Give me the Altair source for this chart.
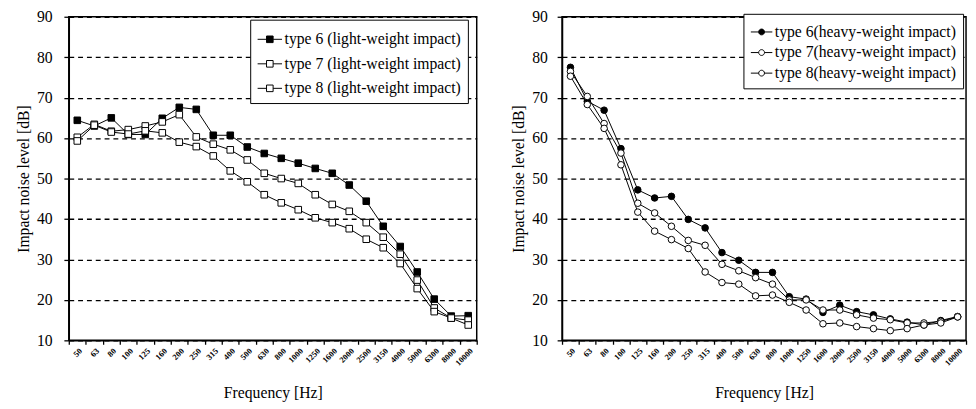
import altair as alt
import pandas as pd

freqs = ['50', '63', '80', '100', '125', '160', '200', '250', '315', '400', '500', '630',
         '800', '1000', '1250', '1600', '2000', '2500', '3150', '4000', '5000', '6300', '8000', '10000']

light_names = ['type 6 (light-weight impact)', 'type 7 (light-weight impact)', 'type 8 (light-weight impact)']
light6 = [64.4, 63.0, 65.0, 60.9, 60.9, 64.9, 67.6, 67.1, 60.7, 60.7, 57.8, 56.2,
          55.0, 53.8, 52.5, 51.3, 48.4, 44.4, 38.2, 33.2, 26.9, 20.2, 16.0, 16.1]
light7 = [60.2, 63.4, 61.7, 62.1, 63.0, 64.0, 65.8, 60.3, 58.5, 57.1, 54.6, 51.3,
          50.0, 48.8, 46.0, 43.6, 41.9, 39.1, 35.5, 31.3, 24.9, 18.0, 15.5, 15.0]
light8 = [59.3, 63.2, 61.5, 61.0, 61.8, 61.3, 59.0, 57.9, 55.6, 51.9, 49.2, 46.0,
          44.0, 42.3, 40.3, 39.1, 37.6, 35.0, 32.9, 29.0, 22.8, 17.1, 15.5, 13.8]

heavy_names = ['type 6(heavy-weight impact)', 'type 7(heavy-weight impact)', 'type 8(heavy-weight impact)']
heavy6 = [77.5, 69.1, 66.9, 57.4, 47.2, 45.2, 45.6, 39.9, 37.8, 31.7, 29.8, 26.8,
          26.8, 20.8, 20.2, 16.9, 18.7, 17.1, 16.3, 15.3, 14.5, 13.8, 14.9, 15.9]
heavy7 = [76.5, 70.3, 63.6, 56.3, 43.9, 41.5, 38.2, 34.7, 33.5, 28.8, 27.2, 25.5,
          23.9, 20.0, 20.0, 17.5, 17.5, 16.3, 15.5, 15.1, 14.3, 14.3, 14.7, 15.8]
heavy8 = [75.3, 68.3, 62.4, 53.4, 41.7, 37.0, 34.9, 32.7, 26.9, 24.3, 23.9, 21.0,
          21.2, 19.4, 17.5, 14.1, 14.3, 13.4, 12.9, 12.4, 12.9, 13.8, 14.3, 15.8]

FONT = 'Liberation Serif'


def long_df(names, series):
    rows = []
    for n, vals in zip(names, series):
        for f, v in zip(freqs, vals):
            rows.append({'freq': f, 'level': v, 'series': n})
    return pd.DataFrame(rows)


SQ_PATH = "M-1,0H-0.27M0.27,0H1M-0.27,-0.27H0.27V0.27H-0.27Z"
CI_PATH = "M-1,0H-0.27M0.27,0H1M-0.27,0A0.27,0.27 0 1,0 0.27,0A0.27,0.27 0 1,0 -0.27,0Z"


def panel(df, names, marker, sym_path, lx, ly, width, sym_size, row_pad, lab_pad):
    x = alt.X('freq:N', sort=freqs,
              scale=alt.Scale(type='band', paddingInner=0, paddingOuter=0),
              axis=alt.Axis(title='Frequency [Hz]', tickBand='extent', labelAngle=315,
                            labelFontSize=8.5, labelFontWeight='bold', tickSize=4,
                            labelPadding=2, titlePadding=18, grid=False))
    y = alt.Y('level:Q', scale=alt.Scale(domain=[10, 90], nice=False, zero=False),
              axis=alt.Axis(title='Impact noise level [dB]', values=list(range(10, 91, 10)),
                            grid=True, gridDash=[5, 4], gridColor='black', gridWidth=1.3,
                            gridOpacity=1, tickSize=5, labelPadding=lab_pad, titlePadding=5))
    base = alt.Chart(df)
    line = base.mark_line(color='black', strokeWidth=1).encode(x=x, y=y, detail='series:N')
    pts = base.mark_point(shape=marker, filled=True, stroke='black', strokeWidth=1,
                          size=45, opacity=1).encode(
        x=x, y=y,
        fill=alt.Fill('series:N',
                      scale=alt.Scale(domain=names, range=['black', 'white', 'white']),
                      legend=alt.Legend(title=None, orient='none', legendX=lx, legendY=ly,
                                        symbolType=sym_path, symbolSize=sym_size,
                                        symbolStrokeColor='black', symbolStrokeWidth=1,
                                        labelFont=FONT, labelFontSize=16, labelColor='black',
                                        labelLimit=400, padding=7, strokeColor='black',
                                        fillColor='white', rowPadding=row_pad, labelOffset=2)))
    return alt.layer(line, pts).properties(width=width, height=330)


left = panel(long_df(light_names, [light6, light7, light8]), light_names, 'square',
             SQ_PATH, 185, 3, 416, 620, 4, 12)
right = panel(long_df(heavy_names, [heavy6, heavy7, heavy8]), heavy_names, 'circle',
              CI_PATH, 185, -3, 412, 480, 1, 10)

chart = alt.hconcat(left, right, spacing=32).resolve_scale(
    fill='independent').resolve_legend(fill='independent').properties(
    padding={'left': 7, 'top': -4, 'right': 0, 'bottom': 0}
).configure(font=FONT).configure_view(
    stroke='black', strokeWidth=1.5
).configure_axis(
    labelFont=FONT, titleFont=FONT, labelColor='black', titleColor='black',
    labelFontSize=16, titleFontSize=16, titleFontWeight='normal',
    domainColor='black', domainWidth=1.5, tickColor='black', tickWidth=1.3
)

chart.save("out.html", embed_options={"renderer": "svg", "actions": False})
